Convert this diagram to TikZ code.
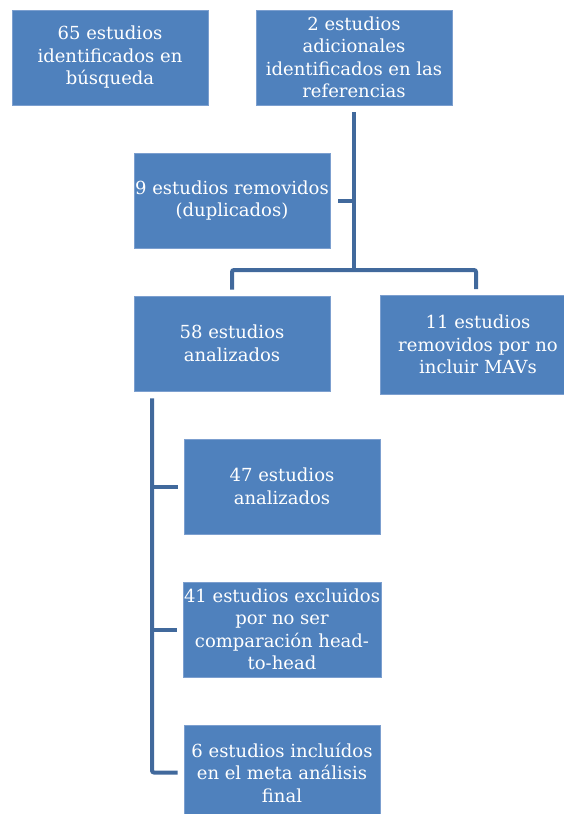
\documentclass[tikz,border=0pt]{standalone}
\usepackage{fontspec}
\setmainfont{DejaVu Serif}
\begin{document}
\begin{tikzpicture}[x=1pt,y=-1pt,
  box/.style={draw=boxedge,line width=0.8pt,fill=boxfill,text=white,align=center,
    minimum width=196pt,minimum height=95pt,inner sep=1pt,
    font=\fontsize{18}{22.5}\selectfont},
  conn/.style={draw=linecol,line width=4pt,rounded corners=2pt}]
\definecolor{boxfill}{HTML}{4F81BD}
\definecolor{boxedge}{HTML}{7C9FCF}
\definecolor{linecol}{HTML}{41699C}
\useasboundingbox (0,0) rectangle (564,814);
\clip (0,0) rectangle (564,814);
\node[box] (A) at (110,57.5) {65 estudios\\identificados en\\búsqueda};
\node[box] (B) at (354,57.5) {2 estudios\\adicionales\\identificados en las\\referencias};
\node[box] (C) at (232,200.5) {9 estudios removidos\\(duplicados)};
\node[box] (D) at (232,343.5) {58 estudios\\analizados};
\node[box,minimum height=99pt] (E) at (478,344.5) {11 estudios\\removidos por no\\incluir MAVs};
\node[box] (F) at (282,486.5) {47 estudios\\analizados};
\node[box] (G) at (282,629.5) {41 estudios excluidos\\por no ser\\comparación head-\\to-head};
\node[box] (H) at (282,772.5) {6 estudios incluídos\\en el meta análisis\\final};
\coordinate (btop) at ([yshift=-7pt]B.south);
\coordinate (bar) at (354,270);
\coordinate (ctick) at ([xshift=8pt]C.east);
\coordinate (dstub) at ([yshift=6pt]D.north);
\coordinate (estub) at (476,289);
\coordinate (dtop) at ([yshift=-7pt]D.south);
\coordinate (ftick) at ([xshift=-6pt]F.west);
\coordinate (gtick) at ([xshift=-6pt]G.west);
\coordinate (htick) at ([xshift=-6pt]H.west);
\draw[conn] (btop) -- (bar);
\draw[conn] (ctick) -- (ctick -| bar);
\draw[conn] (dstub) -- (dstub |- bar) -- (estub |- bar) -- (estub);
\draw[conn] (dtop -| 152,0) -- (htick -| 152,0) -- (htick);
\draw[conn] (ftick -| 152,0) -- (ftick);
\draw[conn] (gtick -| 152,0) -- (gtick);
\end{tikzpicture}
\end{document}
